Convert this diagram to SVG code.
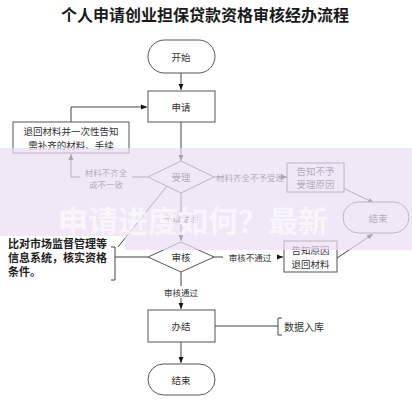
<svg xmlns="http://www.w3.org/2000/svg" width="412" height="400" viewBox="0 0 412 400">
<defs>
<marker id="arr" viewBox="0 0 10 10" refX="10" refY="5" markerWidth="6" markerHeight="6" orient="auto"><path d="M0,1 L10,5 L0,9 z" fill="#111"/></marker>
<style>
.n{fill:#fff;stroke:#555;stroke-width:1}
.c{fill:none;stroke:#444;stroke-width:1}
.t{font-family:"Noto Sans CJK SC",sans-serif;font-size:9.5px;fill:#333;text-anchor:middle;dominant-baseline:central}
.l{font-family:"Noto Sans CJK SC",sans-serif;font-size:8.5px;fill:#333;text-anchor:middle;dominant-baseline:central}
.b{font-family:"Noto Sans CJK SC",sans-serif;font-size:11px;font-weight:bold;fill:#222;dominant-baseline:central}
</style>
</defs>
<rect width="412" height="400" fill="#fff"/>
<text x="205" y="14" font-family="Noto Sans CJK SC,sans-serif" font-size="16" font-weight="bold" fill="#1a1a1a" text-anchor="middle" dominant-baseline="central">个人申请创业担保贷款资格审核经办流程</text>
<g id="connectors">
<path class="c" d="M181,73 V90" marker-end="url(#arr)"/>
<path class="c" d="M181,122 V161" marker-end="url(#arr)"/>
<path class="c" d="M71,122 V107 H147" marker-end="url(#arr)"/>
<path class="c" d="M148,177 H71 V154" marker-end="url(#arr)"/>
<path class="c" d="M214,177 H287" marker-end="url(#arr)"/>
<path class="c" d="M343,188 L374,203" marker-end="url(#arr)"/>
<path class="c" d="M181,193 V241" marker-end="url(#arr)"/>
<path class="c" d="M167,186 L118,247"/>
<path class="c" d="M148,257 H115"/>
<path class="c" d="M111,247 H115 V280 H111"/>
<path class="c" d="M214,257 H283" marker-end="url(#arr)"/>
<path class="c" d="M337,258 L373,234" marker-end="url(#arr)"/>
<path class="c" d="M181,272 V309" marker-end="url(#arr)"/>
<path class="c" d="M215,326 H278"/>
<path class="c" d="M282,318 H278 V335 H282"/>
<path class="c" d="M181,342 V363" marker-end="url(#arr)"/>
</g>
<g id="start"><rect class="n" x="148" y="40" width="67" height="33" rx="16.5"/><text class="t" x="181" y="56.5">开始</text></g>
<g id="apply"><rect class="n" x="148" y="91" width="67" height="31"/><text class="t" x="181" y="106.5">申请</text></g>
<g id="return1"><rect class="n" x="13" y="122" width="116" height="31"/><text class="t" x="71" y="131">退回材料并一次性告知</text><text class="t" x="71" y="145">需补齐的材料、手续</text></g>
<g id="lbl1"><rect x="80" y="168" width="52" height="20" fill="#fff"/><text class="l" x="106" y="172">材料不齐全</text><text class="l" x="106" y="184">或不一致</text></g>
<g id="accept"><polygon class="n" points="181,161 214,177 181,193 148,177"/><text class="t" x="181" y="177">受理</text></g>
<g id="lbl2"><rect x="222" y="171" width="56" height="12" fill="#fff"/><text class="l" x="250" y="177">材料齐全不予受理</text></g>
<g id="reject1"><rect class="n" x="287" y="163" width="57" height="29"/><text class="t" x="315.5" y="171">告知不予</text><text class="t" x="315.5" y="184">受理原因</text></g>
<g id="end1"><rect class="n" x="343" y="202" width="66" height="31" rx="15.5"/><text class="t" x="378" y="217.5">结束</text></g>
<g id="lbl3"><rect x="163" y="212" width="36" height="12" fill="#fff"/><text class="l" x="181" y="218">予以受理</text></g>
<g id="review"><polygon class="n" points="181,242 214,257 181,272 148,257"/><text class="t" x="181" y="257">审核</text></g>
<g id="note1"><text class="b" x="8" y="243">比对市场监督管理等</text><text class="b" x="8" y="257">信息系统，核实资格</text><text class="b" x="8" y="271">条件。</text></g>
<g id="lbl4"><rect x="223" y="251" width="54" height="12" fill="#fff"/><text class="l" x="250" y="257">审核不通过</text></g>
<g id="reject2"><rect class="n" x="284" y="241" width="53" height="31"/><text class="t" x="310.5" y="250">告知原因</text><text class="t" x="310.5" y="264">退回材料</text></g>
<g id="lbl5"><rect x="163" y="286" width="36" height="12" fill="#fff"/><text class="l" x="181" y="292">审核通过</text></g>
<g id="finish"><rect class="n" x="148" y="310" width="67" height="32"/><text class="t" x="181" y="326">办结</text></g>
<g id="note2"><text class="t" x="304" y="326" style="font-size:10px">数据入库</text></g>
<g id="end2"><rect class="n" x="148" y="364" width="67" height="31" rx="15.5"/><text class="t" x="181" y="379.5">结束</text></g>
<path d="M0,148 H412 V250 H125 V236 H0 Z" fill="#e9ddf3" opacity="0.7"/>
<text x="58" y="219" font-family="Noto Sans CJK SC,sans-serif" font-size="30" font-weight="bold" fill="#fff" opacity="0.6" dominant-baseline="central">申请进度如何？最新</text>
</svg>
